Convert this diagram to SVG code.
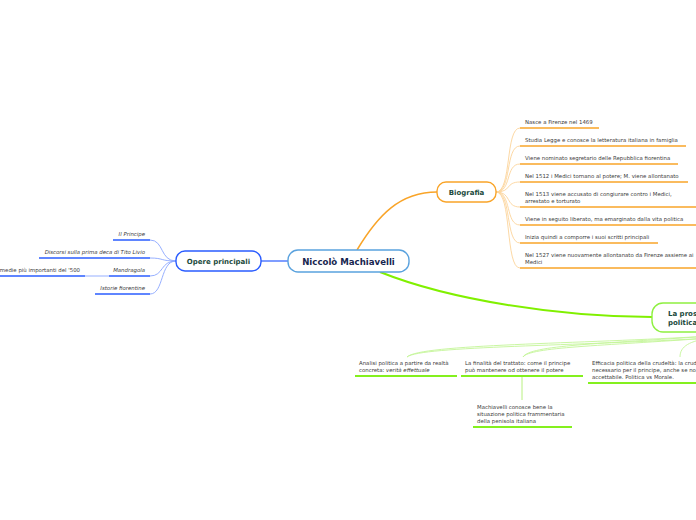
<svg xmlns="http://www.w3.org/2000/svg" width="696" height="520" viewBox="0 0 696 520">
<style>
text{font-family:"DejaVu Sans","Liberation Sans",sans-serif;}
.node{fill:#fff;stroke-width:1.4;}
.nt{font-weight:bold;font-size:7px;fill:#1b4a3c;}
.leaf{font-size:5.4px;fill:#3a3a3a;}
.it{font-style:italic;}
.ob{stroke:#2a5cff;stroke-width:1.5;fill:none;}
.oc{stroke:#8aa6ff;stroke-width:0.9;fill:none;}
.bb{stroke:#f9a428;stroke-width:1.6;fill:none;}
.bc{stroke:#fcd49a;stroke-width:0.9;fill:none;}
.gb{stroke:#84f01e;stroke-width:1.8;fill:none;}
.gc{stroke:#c4f598;stroke-width:0.9;fill:none;}
</style>
<rect width="696" height="520" fill="#fff"/>
<g id="connectors">
  <path d="M261,261 L288,261" stroke="#2a5cff" stroke-width="1.2" fill="none"/>
  <path d="M357,250 C378,215 400,192 437,192" stroke="#f9a428" stroke-width="1.5" fill="none"/>
  <path d="M380,272 C450,300 560,317 652,317" stroke="#80f000" stroke-width="2" fill="none"/>
  <path class="oc" d="M176,261 C160,261 164,240 150,240"/>
  <path class="oc" d="M176,261 C160,261 164,258 150,258"/>
  <path class="oc" d="M176,261 C160,261 164,276 150,276"/>
  <path class="oc" d="M176,261 C160,261 164,294 150,294"/>
  <path class="oc" d="M85,276 L109,276"/>
  <path class="bc" d="M496,192 C512,192 505,128 520,128"/>
  <path class="bc" d="M496,192 C512,192 505,146 520,146"/>
  <path class="bc" d="M496,192 C512,192 505,164 520,164"/>
  <path class="bc" d="M496,192 C512,192 505,182 520,182"/>
  <path class="bc" d="M496,192 C512,192 505,207 520,207"/>
  <path class="bc" d="M496,192 C512,192 505,225 520,225"/>
  <path class="bc" d="M496,192 C512,192 505,243 520,243"/>
  <path class="bc" d="M496,192 C512,192 505,268 520,268"/>
  <path class="gc" d="M710,336 C580,344 420,344 407,357"/>
  <path class="gc" d="M710,338 C580,346 420,346 407,357"/>
  <path class="gc" d="M710,336 C600,344 530,345 523,357"/>
  <path class="gc" d="M710,338 C600,346 530,347 523,357"/>
  <path class="gc" d="M710,338 C690,341 680,346 680,357"/>
  <path d="M522,376 L522,400" stroke="#b8f080" stroke-width="1" fill="none"/>
</g>
<g id="central">
  <rect class="node" x="288" y="250" width="121" height="22" rx="10" stroke="#5aa2de"/>
  <text x="348.5" y="264.8" text-anchor="middle" font-weight="bold" font-size="8.6px" fill="#17264f">Niccolò Machiavelli</text>
</g>
<g id="opere">
  <rect class="node" x="176" y="251" width="85" height="20" rx="9" stroke="#2a5cff"/>
  <text class="nt" x="218.5" y="263.6" text-anchor="middle">Opere principali</text>
</g>
<g id="opere-principe">
  <text class="leaf it" x="145" y="236" text-anchor="end">Il Principe</text>
  <path class="ob" d="M113,240 L150,240"/>
</g>
<g id="opere-discorsi">
  <text class="leaf it" x="145" y="254" text-anchor="end">Discorsi sulla prima deca di Tito Livio</text>
  <path class="ob" d="M39,258 L150,258"/>
</g>
<g id="opere-mandragola">
  <text class="leaf it" x="145" y="272" text-anchor="end">Mandragola</text>
  <path class="ob" d="M109,276 L150,276"/>
</g>
<g id="mandragola-note">
  <text class="leaf" x="80" y="272" text-anchor="end">medie più importanti del '500</text>
  <path class="ob" d="M0,276 L85,276"/>
</g>
<g id="opere-istorie">
  <text class="leaf it" x="145" y="290" text-anchor="end">Istorie fiorentine</text>
  <path class="ob" d="M95,294 L150,294"/>
</g>
<g id="biografia">
  <rect class="node" x="437" y="182" width="59" height="20" rx="9" stroke="#f9a428"/>
  <text class="nt" x="466.5" y="194.6" text-anchor="middle">Biografia</text>
</g>
<g id="bio-1">
  <text class="leaf" x="525" y="124">Nasce a Firenze nel 1469</text>
  <path class="bb" d="M520,128 L599,128"/>
</g>
<g id="bio-2">
  <text class="leaf" x="525" y="142">Studia Legge e conosce la letteratura italiana in famiglia</text>
  <path class="bb" d="M520,146 L686,146"/>
</g>
<g id="bio-3">
  <text class="leaf" x="525" y="160">Viene nominato segretario delle Repubblica fiorentina</text>
  <path class="bb" d="M520,164 L678,164"/>
</g>
<g id="bio-4">
  <text class="leaf" x="525" y="178">Nel 1512 i Medici tornano al potere; M. viene allontanato</text>
  <path class="bb" d="M520,182 L688,182"/>
</g>
<g id="bio-5">
  <text class="leaf" x="525" y="196">Nel 1513 viene accusato di congiurare contro i Medici,</text>
  <text class="leaf" x="525" y="203">arrestato e torturato</text>
  <path class="bb" d="M520,207 L696,207"/>
</g>
<g id="bio-6">
  <text class="leaf" x="525" y="221">Viene in seguito liberato, ma emarginato dalla vita politica</text>
  <path class="bb" d="M520,225 L696,225"/>
</g>
<g id="bio-7">
  <text class="leaf" x="525" y="239">Inizia quindi a comporre i suoi scritti principali</text>
  <path class="bb" d="M520,243 L658,243"/>
</g>
<g id="bio-8">
  <text class="leaf" x="525" y="257">Nel 1527 viene nuovamente allontanato da Firenze assieme ai</text>
  <text class="leaf" x="525" y="264">Medici</text>
  <path class="bb" d="M520,268 L696,268"/>
</g>
<g id="prosa">
  <rect class="node" x="652" y="303" width="80" height="29" rx="11" stroke="#8ef040"/>
  <text class="nt" x="668" y="316">La prosa</text>
  <text class="nt" x="668" y="325">politica</text>
</g>
<g id="prosa-analisi">
  <text class="leaf" x="359" y="365">Analisi politica a partire da realtà</text>
  <text class="leaf" x="359" y="372">concreta: <tspan font-style="italic">verità effettuale</tspan></text>
  <path class="gb" d="M355,376 L457,376"/>
</g>
<g id="prosa-finalita">
  <text class="leaf" x="465" y="365">La finalità del trattato: come il principe</text>
  <text class="leaf" x="465" y="372">può mantenere od ottenere il potere</text>
  <path class="gb" d="M461,376 L583,376"/>
</g>
<g id="finalita-machiavelli">
  <text class="leaf" x="477" y="409">Machiavelli conosce bene la</text>
  <text class="leaf" x="477" y="416">situazione politica frammentaria</text>
  <text class="leaf" x="477" y="423">della penisola italiana</text>
  <path class="gb" d="M473,427 L572,427"/>
</g>
<g id="prosa-crudelta">
  <text class="leaf" x="592" y="365">Efficacia politica della crudeltà: la crudeltà è</text>
  <text class="leaf" x="592" y="372">necessario per il principe, anche se non</text>
  <text class="leaf" x="592" y="379">accettabile. Politica vs Morale.</text>
  <path class="gb" d="M588,383 L696,383"/>
</g>
</svg>
